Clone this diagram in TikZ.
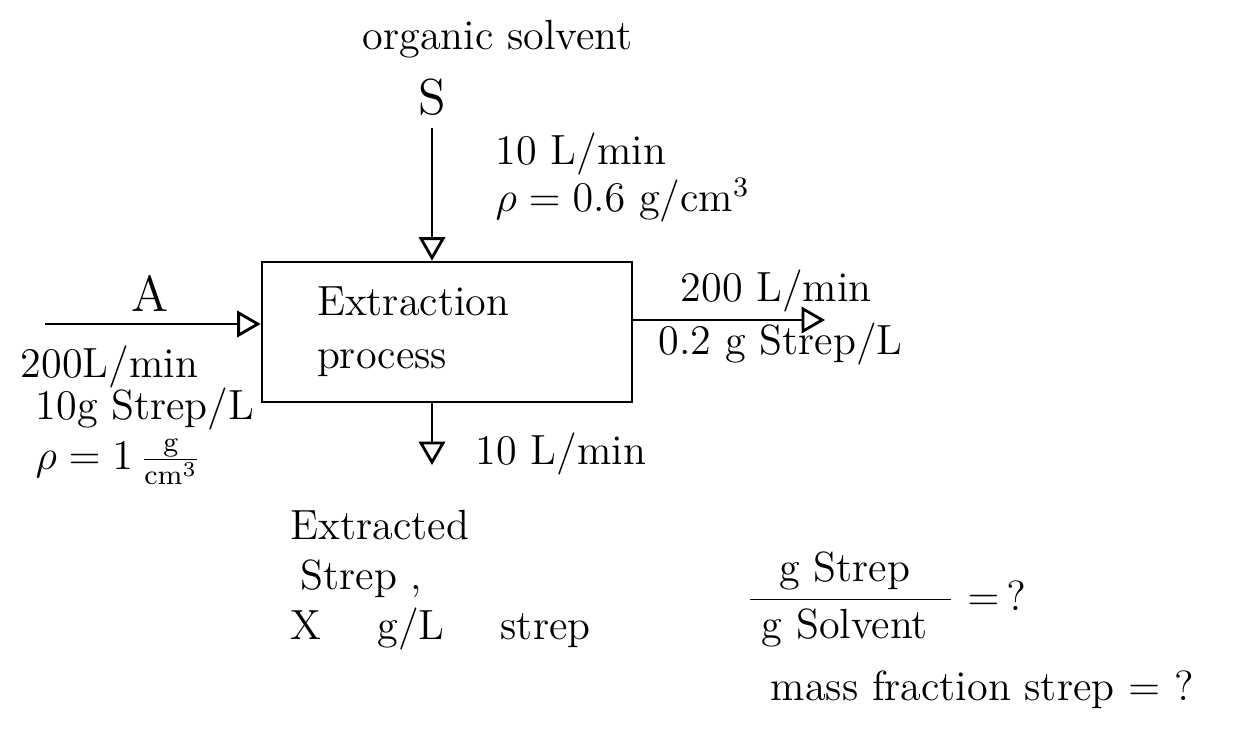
\documentclass[tikz,border=0pt]{standalone}
\usepackage{amsmath}
\usepackage{tikz}
\usetikzlibrary{arrows}
\tikzstyle{proc}=[rectangle,draw,thick,minimum width=3.7cm,minimum height=1.4cm,text width=2.6cm,align=left,inner sep=0pt]
\tikzstyle{lbl}=[anchor=base west,inner sep=0pt,font=\large]
\tikzstyle{arr}=[->,>=open triangle 60,draw,thick]

\begin{document}
\begin{tikzpicture}
    \useasboundingbox (0,0) rectangle (12.56,-7.37);
    \node[proc] (box) at (4.47,-3.32) {\large Extraction\\[3pt]\large process};
    \node[lbl] (org) at (3.62,-0.5) {organic solvent};
    \node[font=\Large,anchor=base] (S) at (4.32,-1.15) {S};
    \node[lbl] (s1) at (4.95,-1.65) {10 L/min};
    \node[lbl] (s2) at (4.95,-2.12) {$\rho = 0.6$ g/cm$^3$};
    \node[font=\Large,anchor=base] (A) at (1.5,-3.12) {A};
    \coordinate (ain) at (0.45,-3.24);
    \node[lbl] (a1) at (0.2,-3.78) {200L/min};
    \node[lbl] (a2) at (0.35,-4.2) {10g Strep/L};
    \node[lbl] (a3) at (0.35,-4.7) {$\rho = 1\,\frac{\text{g}}{\text{cm}^3}$};
    \coordinate (rout) at (8.25,-3.2);
    \node[lbl] (r1) at (6.8,-3.02) {200 L/min};
    \node[lbl] (r2) at (6.58,-3.55) {0.2 g Strep/L};
    \coordinate (dout) at (4.32,-4.65);
    \node[lbl] (d1) at (4.75,-4.65) {10 L/min};
    \node[lbl] (e1) at (2.9,-5.4) {Extracted};
    \node[lbl] (e2) at (3.0,-5.9) {Strep ,};
    \node[lbl] (e3) at (2.9,-6.4) {X \quad g/L \quad strep};
    \node[lbl] (q1) at (7.45,-6.1) {$\dfrac{\text{\;g Strep\;\;}}{\text{\;g Solvent\;\;}} = \,?$};
    \node[lbl] (q2) at (7.7,-7.0) {mass fraction strep = ?};
    \draw[arr] (S) -- (box.north -| S);
    \draw[arr] (ain) -- (ain -| box.west);
    \draw[arr] (box.east |- rout) -- (rout);
    \draw[arr] (box.south -| dout) -- (dout);
\end{tikzpicture}
\end{document}
